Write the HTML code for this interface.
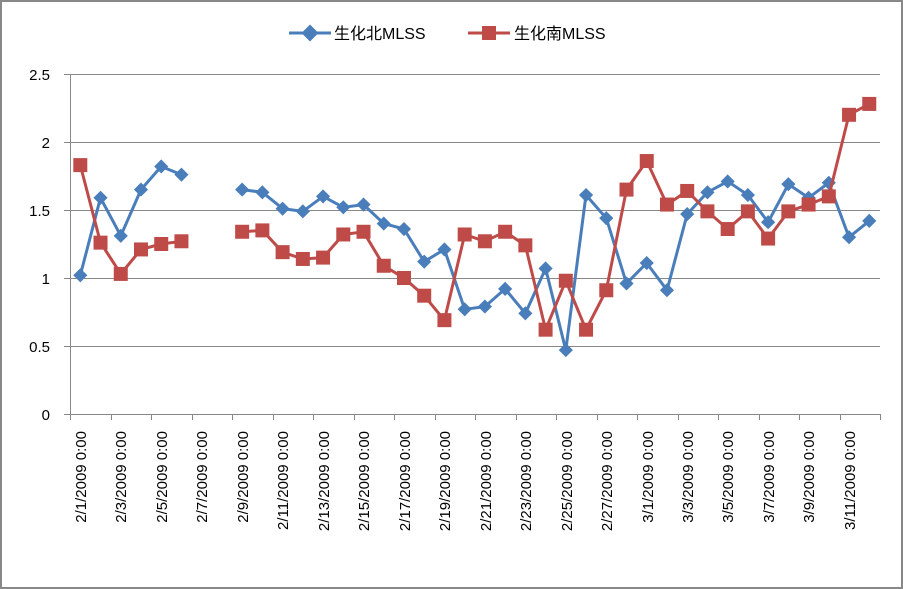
<!DOCTYPE html>
<html><head><meta charset="utf-8"><style>
body{margin:0;background:#fff}
svg{display:block;font-family:"Liberation Sans","Noto Sans CJK SC",sans-serif}
</style></head><body>
<svg width="903" height="589" viewBox="0 0 903 589" xmlns="http://www.w3.org/2000/svg">
<rect x="1" y="1" width="901" height="587" fill="#fff" stroke="#888" stroke-width="2"/>
<g stroke="#888" stroke-width="1">
<line x1="64" y1="74.5" x2="880" y2="74.5"/>
<line x1="64" y1="142.5" x2="880" y2="142.5"/>
<line x1="64" y1="210.5" x2="880" y2="210.5"/>
<line x1="64" y1="278.5" x2="880" y2="278.5"/>
<line x1="64" y1="346.5" x2="880" y2="346.5"/>
<line x1="64" y1="414.5" x2="880" y2="414.5"/>
<line x1="70.5" y1="74" x2="70.5" y2="414"/>
</g>
<g font-size="15" fill="#000" text-anchor="end">
<text x="50" y="80">2.5</text><text x="50" y="148">2</text><text x="50" y="216">1.5</text>
<text x="50" y="284">1</text><text x="50" y="352">0.5</text><text x="50" y="420">0</text>
</g>
<g id="ticks" stroke="#888"></g>
<g font-size="15" fill="#000" text-anchor="end">
<text transform="translate(86,431) rotate(-90)">2/1/2009 0:00</text>
<text transform="translate(126,431) rotate(-90)">2/3/2009 0:00</text>
<text transform="translate(167,431) rotate(-90)">2/5/2009 0:00</text>
<text transform="translate(207,431) rotate(-90)">2/7/2009 0:00</text>
<text transform="translate(248,431) rotate(-90)">2/9/2009 0:00</text>
<text transform="translate(288,431) rotate(-90)">2/11/2009 0:00</text>
<text transform="translate(329,431) rotate(-90)">2/13/2009 0:00</text>
<text transform="translate(369,431) rotate(-90)">2/15/2009 0:00</text>
<text transform="translate(410,431) rotate(-90)">2/17/2009 0:00</text>
<text transform="translate(450,431) rotate(-90)">2/19/2009 0:00</text>
<text transform="translate(491,431) rotate(-90)">2/21/2009 0:00</text>
<text transform="translate(531,431) rotate(-90)">2/23/2009 0:00</text>
<text transform="translate(572,431) rotate(-90)">2/25/2009 0:00</text>
<text transform="translate(612,431) rotate(-90)">2/27/2009 0:00</text>
<text transform="translate(653,431) rotate(-90)">3/1/2009 0:00</text>
<text transform="translate(693,431) rotate(-90)">3/3/2009 0:00</text>
<text transform="translate(733,431) rotate(-90)">3/5/2009 0:00</text>
<text transform="translate(774,431) rotate(-90)">3/7/2009 0:00</text>
<text transform="translate(814,431) rotate(-90)">3/9/2009 0:00</text>
<text transform="translate(855,431) rotate(-90)">3/11/2009 0:00</text>
</g>
<g id="series"></g>
<line x1="289" y1="33" x2="331" y2="33" stroke="#4a7ebb" stroke-width="3"/>
<rect x="304" y="27" width="12" height="12" fill="#4a7ebb" transform="rotate(45 310 33)" />
<text x="334" y="39" font-size="16">生化北MLSS</text>
<line x1="468" y1="33" x2="510" y2="33" stroke="#be4b48" stroke-width="3"/>
<rect x="482" y="26" width="14" height="14" fill="#be4b48"/>
<text x="514" y="39" font-size="16">生化南MLSS</text>
</svg>
<script>
var N=[1.02,1.59,1.31,1.65,1.82,1.76,null,null,1.65,1.63,1.51,1.49,1.60,1.52,1.54,1.40,1.36,1.12,1.21,0.77,0.79,0.92,0.74,1.07,0.47,1.61,1.44,0.96,1.11,0.91,1.47,1.63,1.71,1.61,1.41,1.69,1.59,1.70,1.30,1.42];
var S=[1.83,1.26,1.03,1.21,1.25,1.27,null,null,1.34,1.35,1.19,1.14,1.15,1.32,1.34,1.09,1.00,0.87,0.69,1.32,1.27,1.34,1.24,0.62,0.98,0.62,0.91,1.65,1.86,1.54,1.64,1.49,1.36,1.49,1.29,1.49,1.54,1.60,2.20,2.28];
var ns="http://www.w3.org/2000/svg",g=document.getElementById("series"),tk=document.getElementById("ticks");
function X(i){return 80.3+i*20.23} function Y(v){return 414-136*v}
for(var i=0;i<=40;i+=2){var l=document.createElementNS(ns,"line");var x=Math.round(70+i*20.25)+0.5;l.setAttribute("x1",x);l.setAttribute("x2",x);l.setAttribute("y1",414);l.setAttribute("y2",420);tk.appendChild(l);}
function draw(d,c,m){var segs=[],cur=[];d.forEach(function(v,i){if(v==null){if(cur.length)segs.push(cur);cur=[];}else cur.push(X(i).toFixed(1)+","+Y(v).toFixed(1));});if(cur.length)segs.push(cur);
segs.forEach(function(s){var p=document.createElementNS(ns,"polyline");p.setAttribute("points",s.join(" "));p.setAttribute("fill","none");p.setAttribute("stroke",c);p.setAttribute("stroke-width","3");p.setAttribute("stroke-linejoin","round");g.appendChild(p);});
d.forEach(function(v,i){if(v==null)return;var r=document.createElementNS(ns,"rect");var x=X(i),y=Y(v);
if(m=="d"){r.setAttribute("x",x-5);r.setAttribute("y",y-5);r.setAttribute("width",10);r.setAttribute("height",10);r.setAttribute("transform","rotate(45 "+x+" "+y+")");}
else{r.setAttribute("x",x-7);r.setAttribute("y",y-7);r.setAttribute("width",14);r.setAttribute("height",14);}
r.setAttribute("fill",c);g.appendChild(r);});}
draw(N,"#4a7ebb","d");draw(S,"#be4b48","s");
</script>
</body></html>
